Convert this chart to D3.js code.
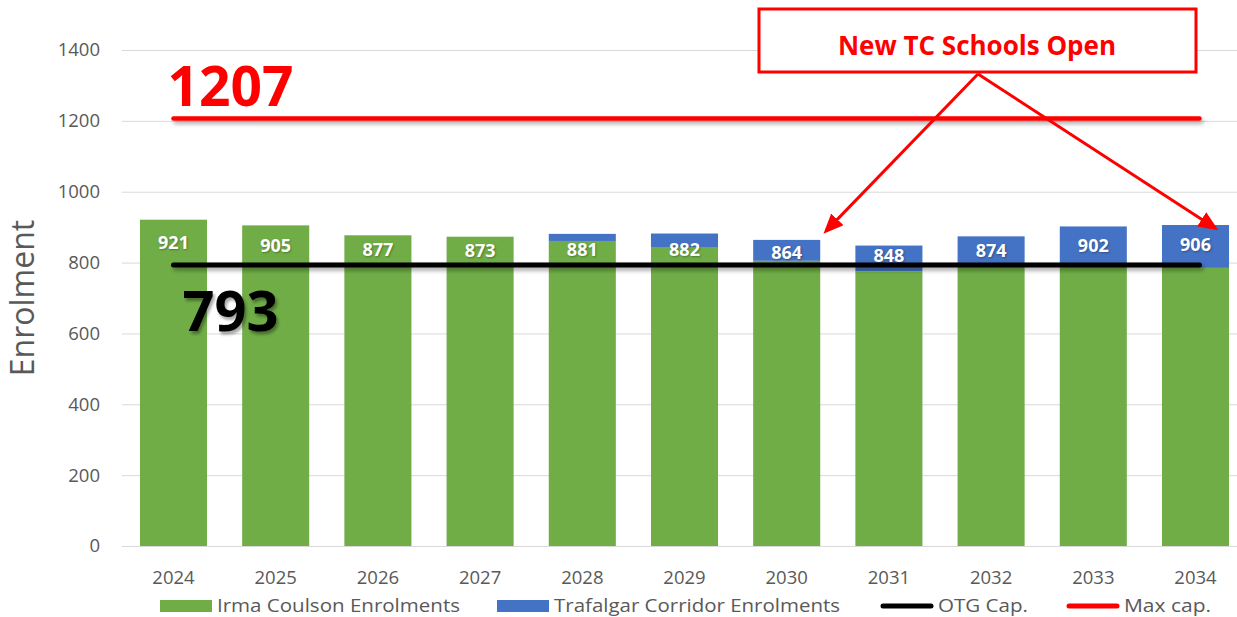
<!DOCTYPE html>
<html>
<head>
<meta charset="utf-8">
<script src="https://cdn.jsdelivr.net/npm/d3@7"></script>
<style>
  body { margin: 0; background: #fff; }
  svg { display: block; font-family: "Open Sans", sans-serif; }
</style>
</head>
<body>
<svg id="chart" width="1237" height="617"></svg>
<script>
// chart data
const years = ['2024', '2025', '2026', '2027', '2028', '2029', '2030', '2031', '2032', '2033', '2034'];
const irmaCoulson = [921, 905, 877, 873, 861, 844, 805, 775, 789, 788, 785];
const trafalgar = [0, 0, 0, 0, 20, 38, 59, 73, 85, 114, 121];
const otgCap = 793;
const maxCap = 1207;
const yTicks = [0, 200, 400, 600, 800, 1000, 1200, 1400];
const legendItems = ['Irma Coulson Enrolments', 'Trafalgar Corridor Enrolments', 'OTG Cap.', 'Max cap.'];
const noteText = 'New TC Schools Open';
const noteTargets = ['2030', '2034'];

const green = '#70ad47', blue = '#4472c4', red = '#ff0000', grey = '#595959';

const svg = d3.select('#chart');

let x = d3.scaleBand()
  .domain(years)
  .range([122.6, 1246.4])
  .paddingInner(0.344)
  .paddingOuter(0.17);

let y = d3.scaleLinear()
  .domain([0, 1400])
  .range([546, 50]);

// drop shadow for the cap lines
const defs = svg.append('defs');
const shadow = defs.append('filter').attr('id', 'shadow')
  .attr('filterUnits', 'userSpaceOnUse')
  .attr('x', 0).attr('y', 0).attr('width', 1237).attr('height', 617);
shadow.append('feDropShadow')
  .attr('dx', 2).attr('dy', 3).attr('stdDeviation', 2)
  .attr('flood-color', '#000').attr('flood-opacity', 0.35);

defs.append('marker')
  .attr('id', 'arrow')
  .attr('viewBox', '0 0 10 10')
  .attr('refX', 8).attr('refY', 5)
  .attr('markerUnits', 'userSpaceOnUse')
  .attr('markerWidth', 20).attr('markerHeight', 17)
  .attr('preserveAspectRatio', 'none')
  .attr('orient', 'auto-start-reverse')
  .append('path')
  .attr('d', 'M0,0 L10,5 L0,10 z')
  .attr('fill', red);

// gridlines + y axis labels
svg.append('g')
  .attr('transform', 'translate(122,0)')
  .call(d3.axisLeft(y).tickValues(yTicks).tickFormat(d3.format('d')).tickSize(-1120).tickPadding(22))
  .call(g => g.select('.domain').remove())
  .call(g => g.selectAll('.tick line').attr('stroke', '#d9d9d9').attr('stroke-width', 1))
  .call(g => g.selectAll('.tick text')
    .attr('fill', grey)
    .attr('font-size', 18.5)
    .attr('font-family', '"Open Sans", sans-serif'));

// x axis labels
svg.append('g')
  .attr('transform', `translate(0,${y(0)})`)
  .call(d3.axisBottom(x).tickSize(0).tickPadding(25))
  .call(g => g.select('.domain').remove())
  .call(g => g.selectAll('.tick text')
    .attr('fill', grey)
    .attr('font-size', 18.5)
    .attr('font-family', '"Open Sans", sans-serif'));

// y title
svg.append('text')
  .attr('transform', `translate(34,${y(700)}) rotate(-90)`)
  .attr('text-anchor', 'middle')
  .attr('fill', grey)
  .attr('font-size', 32)
  .text('Enrolment');

// stacked bars
const stackData = years.map((yr, i) => ({ year: yr, irma: irmaCoulson[i], tc: trafalgar[i] }));
const stack = d3.stack().keys(['irma', 'tc'])(stackData);
const colors = { irma: green, tc: blue };

svg.append('g').selectAll('g')
  .data(stack)
  .join('g')
  .attr('fill', d => colors[d.key])
  .selectAll('rect')
  .data(d => d)
  .join('rect')
  .attr('x', d => x(d.data.year))
  .attr('width', x.bandwidth())
  .attr('y', d => y(d[1]))
  .attr('height', d => y(d[0]) - y(d[1]));

// cap lines
const x0 = x(years[0]) + x.bandwidth() / 2;
const x1 = x(years[years.length - 1]) + x.bandwidth() / 2 + 4;

svg.append('line')
  .attr('x1', x0).attr('x2', x1)
  .attr('y1', y(maxCap)).attr('y2', y(maxCap))
  .attr('stroke', red).attr('stroke-width', 4.5)
  .attr('stroke-linecap', 'round')
  .attr('filter', 'url(#shadow)');

svg.append('line')
  .attr('x1', x0).attr('x2', x1)
  .attr('y1', y(otgCap)).attr('y2', y(otgCap))
  .attr('stroke', '#000').attr('stroke-width', 5)
  .attr('stroke-linecap', 'round')
  .attr('filter', 'url(#shadow)');

// total labels, placed between the bar top and the OTG line
svg.append('g').selectAll('text')
  .data(stackData)
  .join('text')
  .attr('x', d => x(d.year) + x.bandwidth() / 2)
  .attr('y', d => (y(d.irma + d.tc) + y(otgCap)) / 2)
  .attr('dy', '0.35em')
  .attr('text-anchor', 'middle')
  .attr('fill', '#fff')
  .attr('font-weight', 'bold')
  .attr('font-size', 18)
  .style('text-shadow', '1px 1px 2px rgba(0,0,0,0.3)')
  .text(d => d.irma + d.tc);

// big cap labels
svg.append('text')
  .attr('x', x0 - 6)
  .attr('y', y(maxCap) - 12)
  .attr('fill', red)
  .attr('font-weight', 'bold')
  .attr('font-size', 56)
  .attr('textLength', 126)
  .attr('lengthAdjust', 'spacingAndGlyphs')
  .text(maxCap);

svg.append('text')
  .attr('x', x0 + 9)
  .attr('y', y(otgCap) + 66)
  .attr('fill', '#000')
  .attr('font-weight', 'bold')
  .attr('font-size', 56)
  .attr('textLength', 96)
  .attr('lengthAdjust', 'spacingAndGlyphs')
  .style('text-shadow', '2px 3px 3px rgba(0,0,0,0.35)')
  .text(otgCap);

// annotation box
const note = svg.append('g');
note.append('rect')
  .attr('x', 759).attr('y', 9)
  .attr('width', 437).attr('height', 63)
  .attr('fill', '#fff')
  .attr('stroke', red).attr('stroke-width', 3);
note.append('text')
  .attr('x', 977).attr('y', 55)
  .attr('text-anchor', 'middle')
  .attr('fill', red)
  .attr('font-weight', 'bold')
  .attr('font-size', 26)
  .text(noteText);

noteTargets.forEach(yr => {
  const i = years.indexOf(yr);
  const total = irmaCoulson[i] + trafalgar[i];
  const last = yr === years[years.length - 1];
  const tx = x(yr) + x.bandwidth() + (last ? -14 : 6);
  const ty = y(total) + (last ? 3 : -9);
  svg.append('line')
    .attr('x1', 978).attr('y1', 74)
    .attr('x2', tx).attr('y2', ty)
    .attr('stroke', red).attr('stroke-width', 3)
    .attr('marker-end', 'url(#arrow)');
});

// legend
const legendX = [160, 497, 881, 1067];
const legendW = [243, 286, 90, 87];
const legend = svg.append('g').attr('transform', 'translate(0,606)');
legendItems.forEach((name, i) => {
  const g = legend.append('g').attr('transform', `translate(${legendX[i]},0)`);
  if (i < 2) {
    g.append('rect').attr('x', 0).attr('y', -6).attr('width', 52).attr('height', 12)
      .attr('fill', i === 0 ? green : blue);
  } else {
    g.append('line').attr('x1', 2).attr('x2', 50).attr('y1', 0).attr('y2', 0)
      .attr('stroke', i === 2 ? '#000' : red).attr('stroke-width', 5)
      .attr('stroke-linecap', 'round');
  }
  g.append('text')
    .attr('x', 57).attr('y', 0).attr('dy', '0.35em')
    .attr('fill', grey)
    .attr('font-size', 18)
    .attr('textLength', legendW[i])
    .attr('lengthAdjust', 'spacingAndGlyphs')
    .text(name);
});
</script>
</body>
</html>
